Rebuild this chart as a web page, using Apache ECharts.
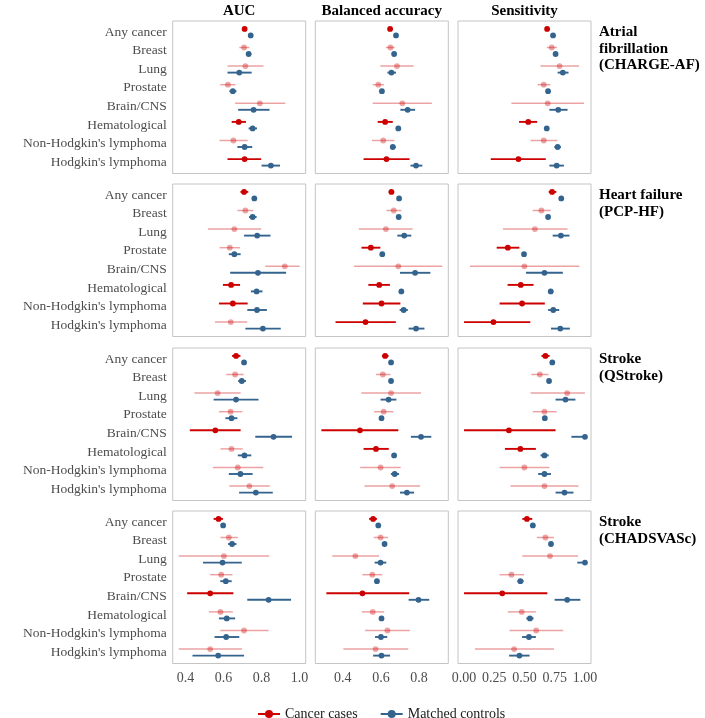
<!DOCTYPE html>
<html><head><meta charset="utf-8">
<script src="https://cdn.jsdelivr.net/npm/echarts@6/dist/echarts.min.js"></script>
<style>html,body{margin:0;padding:0;background:#fff}#c{width:705px;height:718px}</style>
</head><body><div id="c"></div>
<script>
const categories = ['Any cancer','Breast','Lung','Prostate','Brain/CNS','Hematological',"Non-Hodgkin's lymphoma","Hodgkin's lymphoma"];
const metrics = ['AUC','Balanced accuracy','Sensitivity'];
const outcomes = ['Atrial\nfibrillation\n(CHARGE-AF)','Heart failure\n(PCP-HF)','Stroke\n(QStroke)','Stroke\n(CHADSVASc)'];
const xTickValues = [[0.4,0.6,0.8,1.0],[0.4,0.6,0.8],[0,0.25,0.5,0.75,1]];
const xDecimals = [1,1,2];
const legendNames = ['Cancer cases','Matched controls'];

// cases rows: [estimate, lower, upper, significant(1/0)] ; controls rows: [estimate, lower, upper]
const afAucCases = [[0.711,0.700,0.722,1],[0.708,0.683,0.736,0],[0.715,0.621,0.810,0],[0.623,0.583,0.663,0],[0.791,0.661,0.925,0],[0.680,0.643,0.718,1],[0.652,0.579,0.727,0],[0.711,0.621,0.798,1]];
const afAucControls = [[0.743,0.737,0.749],[0.732,0.720,0.746],[0.683,0.621,0.748],[0.649,0.631,0.668],[0.758,0.677,0.842],[0.753,0.732,0.776],[0.711,0.673,0.751],[0.849,0.800,0.897]];
const afBaCases = [[0.648,0.641,0.655,1],[0.650,0.626,0.672,0],[0.684,0.597,0.771,0],[0.586,0.557,0.616,0],[0.712,0.557,0.867,0],[0.622,0.583,0.662,1],[0.612,0.553,0.671,0],[0.629,0.509,0.750,1]];
const afBaControls = [[0.679,0.674,0.684],[0.669,0.662,0.676],[0.655,0.634,0.679],[0.605,0.599,0.611],[0.740,0.702,0.779],[0.691,0.685,0.697],[0.662,0.648,0.678],[0.784,0.755,0.817]];
const afSensCases = [[0.687,0.677,0.697,1],[0.725,0.684,0.768,0],[0.790,0.632,0.951,0],[0.659,0.608,0.714,0],[0.692,0.392,0.992,0],[0.531,0.455,0.605,1],[0.659,0.550,0.771,0],[0.450,0.221,0.676,1]];
const afSensControls = [[0.736,0.728,0.744],[0.757,0.747,0.767],[0.817,0.774,0.864],[0.695,0.685,0.705],[0.779,0.706,0.856],[0.684,0.676,0.692],[0.774,0.747,0.801],[0.766,0.706,0.826]];

const hfAucCases = [[0.708,0.689,0.730,1],[0.715,0.673,0.757,0],[0.657,0.518,0.798,0],[0.633,0.579,0.687,0],[0.922,0.819,1.0,0],[0.640,0.597,0.687,1],[0.649,0.576,0.727,1],[0.638,0.555,0.725,0]];
const hfAucControls = [[0.762,0.755,0.769],[0.753,0.734,0.774],[0.777,0.708,0.847],[0.657,0.628,0.690],[0.781,0.635,0.929],[0.774,0.744,0.805],[0.776,0.725,0.828],[0.807,0.715,0.901]];
const hfBaCases = [[0.655,0.641,0.669,1],[0.667,0.629,0.707,0],[0.626,0.484,0.766,0],[0.547,0.498,0.597,1],[0.691,0.459,0.922,0],[0.591,0.534,0.647,1],[0.603,0.505,0.702,1],[0.519,0.362,0.678,1]];
const hfBaControls = [[0.695,0.689,0.701],[0.693,0.687,0.699],[0.722,0.686,0.759],[0.607,0.601,0.613],[0.779,0.700,0.859],[0.707,0.700,0.714],[0.719,0.698,0.741],[0.784,0.745,0.828]];
const hfSensCases = [[0.728,0.700,0.763,1],[0.640,0.567,0.717,0],[0.586,0.322,0.856,0],[0.362,0.270,0.458,1],[0.499,0.049,0.954,0],[0.469,0.360,0.575,1],[0.480,0.294,0.668,1],[0.243,0.0,0.548,1]];
const hfSensControls = [[0.804,0.794,0.814],[0.695,0.685,0.705],[0.801,0.733,0.872],[0.496,0.486,0.506],[0.665,0.512,0.817],[0.717,0.695,0.738],[0.738,0.695,0.787],[0.796,0.719,0.875]];

const qsAucCases = [[0.666,0.645,0.689,1],[0.661,0.614,0.706,0],[0.569,0.447,0.690,0],[0.637,0.576,0.699,0],[0.557,0.423,0.690,1],[0.642,0.584,0.701,0],[0.675,0.544,0.809,0],[0.736,0.630,0.843,0]];
const qsAucControls = [[0.708,0.702,0.714],[0.696,0.677,0.718],[0.666,0.548,0.784],[0.642,0.610,0.673],[0.863,0.767,0.960],[0.710,0.675,0.746],[0.689,0.628,0.753],[0.770,0.682,0.859]];
const qsBaCases = [[0.622,0.605,0.640,1],[0.610,0.574,0.650,0],[0.653,0.497,0.810,0],[0.614,0.564,0.666,0],[0.490,0.288,0.691,1],[0.574,0.509,0.641,1],[0.598,0.491,0.703,0],[0.659,0.514,0.805,0]];
const qsBaControls = [[0.653,0.647,0.659],[0.653,0.647,0.659],[0.640,0.598,0.681],[0.603,0.597,0.609],[0.810,0.757,0.864],[0.669,0.661,0.677],[0.672,0.652,0.695],[0.736,0.700,0.774]];
const qsSensCases = [[0.673,0.640,0.708,1],[0.627,0.556,0.698,0],[0.853,0.550,1.0,0],[0.665,0.567,0.766,0],[0.371,0.0,0.757,1],[0.466,0.338,0.594,1],[0.499,0.294,0.706,0],[0.665,0.384,0.946,0]];
const qsSensControls = [[0.730,0.720,0.740],[0.703,0.693,0.713],[0.839,0.757,0.921],[0.668,0.653,0.683],[1.0,0.888,1.0],[0.665,0.632,0.700],[0.665,0.613,0.719],[0.831,0.757,0.905]];

const chAucCases = [[0.574,0.548,0.597,1],[0.628,0.584,0.675,0],[0.602,0.365,0.840,0],[0.588,0.530,0.647,0],[0.530,0.409,0.652,1],[0.584,0.523,0.649,0],[0.708,0.583,0.837,0],[0.530,0.365,0.697,0]];
const chAucControls = [[0.598,0.592,0.604],[0.645,0.624,0.668],[0.595,0.492,0.696],[0.612,0.583,0.643],[0.837,0.725,0.955],[0.617,0.576,0.661],[0.614,0.553,0.683],[0.572,0.437,0.708]];
const chBaCases = [[0.559,0.538,0.579,1],[0.598,0.562,0.638,0],[0.466,0.345,0.590,0],[0.555,0.503,0.607,0],[0.503,0.314,0.748,1],[0.557,0.500,0.617,0],[0.634,0.517,0.752,0],[0.572,0.403,0.743,0]];
const chBaControls = [[0.586,0.580,0.592],[0.619,0.613,0.625],[0.598,0.567,0.628],[0.579,0.571,0.587],[0.797,0.745,0.853],[0.603,0.595,0.611],[0.600,0.569,0.633],[0.603,0.559,0.648]];
const chSensCases = [[0.520,0.482,0.564,1],[0.673,0.602,0.744,0],[0.711,0.482,0.943,0],[0.392,0.294,0.496,0],[0.316,0.0,0.689,1],[0.477,0.362,0.594,0],[0.597,0.376,0.820,0],[0.414,0.090,0.744,0]];
const chSensControls = [[0.569,0.559,0.579],[0.719,0.709,0.729],[1.0,0.937,1.0],[0.466,0.441,0.493],[0.853,0.749,0.962],[0.545,0.515,0.575],[0.537,0.480,0.594],[0.458,0.373,0.542]];

const panelCases = [[afAucCases,afBaCases,afSensCases],[hfAucCases,hfBaCases,hfSensCases],[qsAucCases,qsBaCases,qsSensCases],[chAucCases,chBaCases,chSensCases]];
const panelControls = [[afAucControls,afBaControls,afSensControls],[hfAucControls,hfBaControls,hfSensControls],[qsAucControls,qsBaControls,qsSensControls],[chAucControls,chBaControls,chSensControls]];

// ---- layout / style ----
const RED = '#CC0000', RED_FADED = 'rgba(204,0,0,0.36)', BLUE = '#34648E';
const FONT = '"Liberation Serif","Times New Roman",serif';
const colLeft = [172.7, 315.3, 458];
const rowTop = [21, 184, 348, 511];
const PW = 133, PH = 152.5;
const xRange = [[0.333,1.032],[0.256,0.953],[-0.05,1.05]];

const grids = [], xAxes = [], yAxes = [], series = [], graphics = [];
let gi = 0;
for (let r = 0; r < 4; r++) {
  for (let c = 0; c < 3; c++) {
    grids.push({left: colLeft[c], top: rowTop[r], width: PW, height: PH, show: true,
      borderColor: '#C4C4C4', borderWidth: 1, backgroundColor: '#fff', containLabel: false});
    const bottom = r === 3;
    xAxes.push({type: 'value', gridIndex: gi, position: 'bottom', min: xRange[c][0], max: xRange[c][1],
      axisLine: {show: false}, splitLine: {show: false}, axisTick: {show: false},
      axisLabel: {show: bottom, customValues: xTickValues[c], margin: 8, color: '#4D4D4D',
        fontFamily: FONT, fontSize: 14, formatter: v => Number(v).toFixed(xDecimals[c])}});
    yAxes.push({type: 'value', gridIndex: gi, min: -0.6, max: 7.6, inverse: true,
      axisLine: {show: false}, splitLine: {show: false}, axisTick: {show: false},
      axisLabel: {show: c === 0, customValues: categories.map((_, i) => i), margin: 6, color: '#4D4D4D',
        fontFamily: FONT, fontSize: 13.5, formatter: v => categories[Math.round(v)] || ''}});
    const groups = [
      {rows: panelCases[r][c], dodge: -0.175, kind: 0},
      {rows: panelControls[r][c], dodge: 0.175, kind: 1}
    ];
    groups.forEach(g => {
      series.push({
        type: 'custom', name: 'p' + gi + '_' + g.kind, xAxisIndex: gi, yAxisIndex: gi,
        silent: true, clip: false,
        encode: {x: [0, 1, 2], y: 3},
        data: g.rows.map((d, i) => [d[0], d[1], d[2], i, g.kind === 0 ? d[3] : 1]),
        renderItem: (params, api) => {
          const cat = api.value(3);
          const p = api.coord([api.value(0), cat]);
          const lo = api.coord([api.value(1), cat]);
          const hi = api.coord([api.value(2), cat]);
          const band = api.size([0, 1])[1];
          const y = p[1] + g.dodge * band;
          let color;
          if (g.kind === 1) color = BLUE; else color = api.value(4) ? RED : RED_FADED;
          const lw = (g.kind === 0 && !api.value(4)) ? 1.5 : 1.9;
          return {type: 'group', children: [
            {type: 'line', shape: {x1: lo[0], y1: y, x2: hi[0], y2: y}, style: {stroke: color, lineWidth: lw}},
            {type: 'circle', shape: {cx: p[0], cy: y, r: 2.9}, style: {fill: color}}
          ]};
        }
      });
    });
    gi++;
  }
}

// legend dummy series
series.push({type: 'line', name: legendNames[0], xAxisIndex: 0, yAxisIndex: 0, data: [],
  color: RED, symbol: 'circle', symbolSize: 7, lineStyle: {width: 2, color: RED}});
series.push({type: 'line', name: legendNames[1], xAxisIndex: 0, yAxisIndex: 0, data: [],
  color: BLUE, symbol: 'circle', symbolSize: 7, lineStyle: {width: 2, color: BLUE}});

// column titles
metrics.forEach((m, c) => {
  graphics.push({type: 'text', x: colLeft[c] + PW / 2, y: 11,
    style: {text: m, align: 'center', verticalAlign: 'middle', fill: '#000',
      font: 'bold 15px ' + FONT}});
});
// row strip labels
outcomes.forEach((o, r) => {
  graphics.push({type: 'text', x: 599, y: rowTop[r] + 3,
    style: {text: o, align: 'left', verticalAlign: 'top', fill: '#000',
      font: 'bold 15px ' + FONT, lineHeight: 16.5}});
});

const chart = echarts.init(document.getElementById('c'), null, {renderer: 'canvas'});
chart.setOption({
  animation: false,
  backgroundColor: '#fff',
  grid: grids, xAxis: xAxes, yAxis: yAxes, series: series,
  legend: {data: legendNames, left: 252, top: 702, itemWidth: 22, itemHeight: 10, itemGap: 22,
    textStyle: {fontFamily: FONT, fontSize: 14, color: '#1a1a1a'}},
  graphic: graphics
});
</script></body></html>
